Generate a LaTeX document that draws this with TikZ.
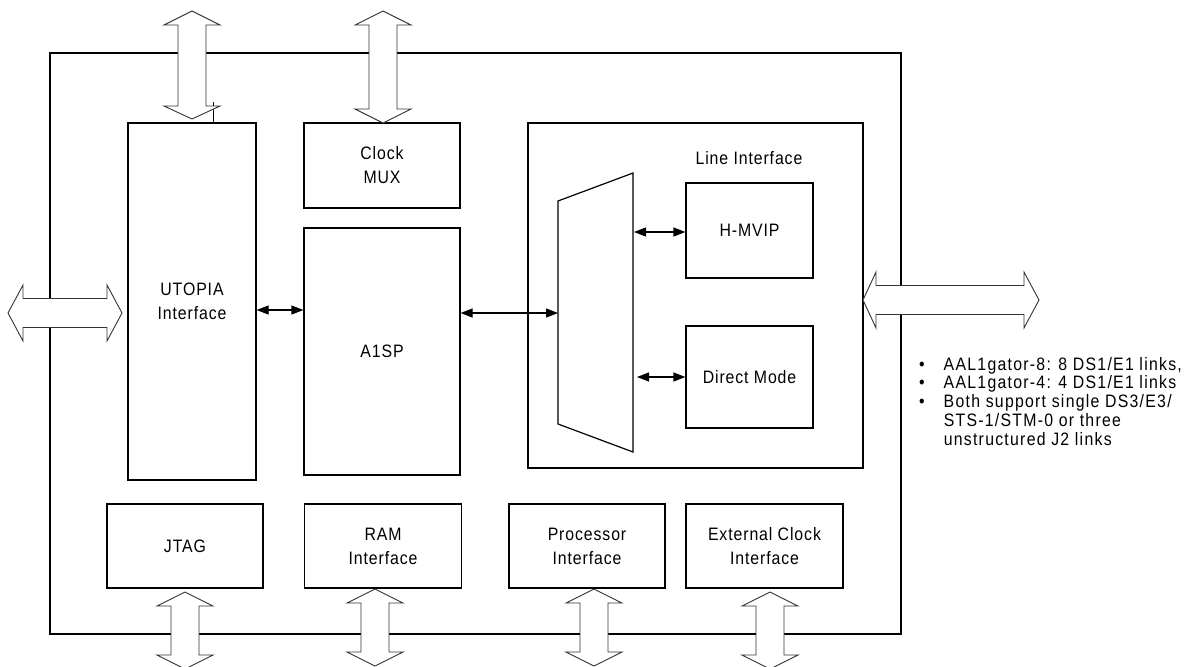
\documentclass[tikz,border=0pt]{standalone}
\usepackage{fontspec}
\setmainfont{Liberation Sans}[FakeStretch=0.88,LetterSpace=5]
\newfontfamily\notefont{Liberation Sans}[FakeStretch=0.88,LetterSpace=7]
\usetikzlibrary{arrows.meta}
\newcommand\vdarrow[5]{\filldraw[hollow] ({#1-28},#3) -- (#1,#2) -- ({#1+28},#3) -- ({#1+14},#3) -- ({#1+14},#4) -- ({#1+28},#4) -- (#1,#5) -- ({#1-28},#4) -- ({#1-14},#4) -- ({#1-14},#3) -- cycle;}
\newcommand\hdarrow[5]{\filldraw[hollow] (#3,{#1-28}) -- (#2,#1) -- (#3,{#1+28}) -- (#3,{#1+14.5}) -- (#4,{#1+14.5}) -- (#4,{#1+28}) -- (#5,#1) -- (#4,{#1-28}) -- (#4,{#1-14.5}) -- (#3,{#1-14.5}) -- cycle;}
\begin{document}
\begin{tikzpicture}[x=1pt,y=-1pt,
  hollow/.style={draw=black!80,fill=white,line width=0.9pt},
  blk/.style={draw,line width=1.2pt,inner sep=0pt,align=center,font=\fontsize{18}{24}\selectfont},
  lbl/.style={inner sep=0pt,align=left,font=\fontsize{18}{24}\selectfont},
  sarr/.style={line width=1.2pt,{Triangle[length=12pt,width=9pt]}-{Triangle[length=12pt,width=9pt]}}]
\useasboundingbox (0,0) rectangle (1187,667);
% outer box
\node[draw,line width=2pt,inner sep=0pt,minimum width=851pt,minimum height=581pt] (outer) at (475.5,343.5) {};
% blocks
\node[blk,minimum width=128pt,minimum height=357pt] (utopia) at (192,301.5) {UTOPIA\\Interface};
\node[blk,minimum width=156pt,minimum height=85pt] (clk) at (382,165.5) {Clock\\MUX};
\node[blk,minimum width=156pt,minimum height=247pt] (a1sp) at (382,351.5) {A1SP};
\node[blk,minimum width=335pt,minimum height=345pt] (li) at (695.5,295.5) {};
\node[lbl] (litext) at (749,158) {Line Interface};
\node[blk,minimum width=127pt,minimum height=95pt] (hmvip) at (749.5,230.5) {H-MVIP};
\node[blk,minimum width=127pt,minimum height=102pt] (direct) at (749.5,377) {Direct Mode};
\node[blk,minimum width=156pt,minimum height=84pt] (jtag) at (185,546) {JTAG};
\node[blk,minimum width=157pt,minimum height=84pt] (ram) at (383,546) {RAM\\Interface};
\node[blk,minimum width=156pt,minimum height=84pt] (proc) at (587,546) {Processor\\Interface};
\node[blk,minimum width=157pt,minimum height=84pt] (ext) at (764.5,546) {External Clock\\Interface};
% mux trapezoid
\coordinate (m1) at (558,201);
\coordinate (m2) at (633,173);
\coordinate (m3) at (633,452);
\coordinate (m4) at (558,424);
\draw[line width=1.2pt] (m1) -- (m2) -- (m3) -- (m4) -- cycle;
\coordinate (muxL) at (558,313);
\coordinate (muxR1) at (634,232);
\coordinate (muxR2) at (637,377);
\coordinate (ua) at (0,310);
% small arrows
\draw[sarr] (utopia.east |- ua) -- (a1sp.west |- ua);
\draw[sarr] (a1sp.east |- muxL) -- (muxL);
\draw[sarr] (muxR1) -- (hmvip.west |- muxR1);
\draw[sarr] (muxR2) -- (direct.west |- muxR2);
% tick above utopia
\coordinate (tk) at (213,102);
\draw[line width=1pt] (tk) -- (tk |- utopia.north);
% hollow arrows
\vdarrow{192}{11}{25}{106}{119}
\vdarrow{383}{11}{25}{109}{123}
\hdarrow{313}{8}{23}{107}{122}
\hdarrow{300}{863}{876}{1024}{1039}
\vdarrow{185}{592}{606}{655}{669}
\vdarrow{375}{589}{603}{652}{666}
\vdarrow{594}{589}{603}{652}{666}
\vdarrow{770}{592}{606}{655}{669}
% bullet notes
\node[inner sep=0pt,anchor=north west,font=\notefont\fontsize{18}{18.7}\selectfont] (notes) at (919,357) {%
\begin{tabular}{@{}l@{\hspace{19pt}}l@{}}
\textbullet & AAL1gator-8: 8 DS1/E1 links,\\
\textbullet & AAL1gator-4: 4 DS1/E1 links\\
\textbullet & Both support single DS3/E3/\\
 & STS-1/STM-0 or three\\
 & unstructured J2 links
\end{tabular}};
\end{tikzpicture}
\end{document}
